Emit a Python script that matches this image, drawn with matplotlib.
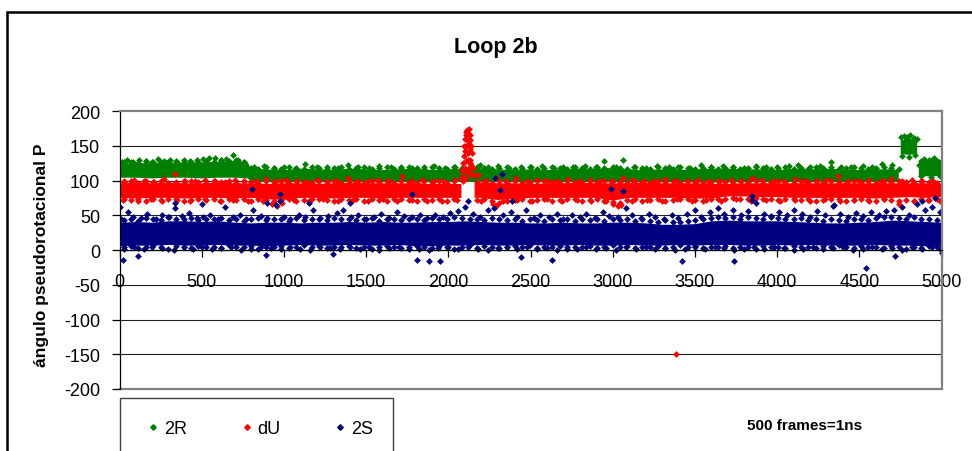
import numpy as np
import matplotlib
matplotlib.use("Agg")
import matplotlib.pyplot as plt
from matplotlib.patches import Rectangle
from matplotlib.lines import Line2D

plt.rcParams['font.family'] = ['Liberation Sans', 'DejaVu Sans']
plt.rcParams['axes.unicode_minus'] = False

# ---------------- data (frame, angle P) ----------------
names = ['2R', 'dU', '2S']
colors = ['#008000', '#FF0000', '#000080']

# dense core of each cloud (lower / upper edge), NaN = break in the cloud
r2_x = [0, 100, 200, 300, 400, 500, 600, 700, 780,
        800, 900, 1000, 1100, 1200, 1300, 1400, 1500, 1600, 1700, 1800, 1900, 2000,
        2100, 2200, 2300, 2400, 2500, 2600, 2700, 2800, 2900, 3000, 3100, 3200, 3300,
        3400, 3500, 3600, 3700, 3800, 3900, 4000, 4100, 4200, 4300, 4400, 4500, 4600,
        4700, 4740, 4746, 4752, 4800, 4852, 4857, 4862, 4900, 4950, 5000]
r2_hi = [124, 125, 125, 126, 125, 126, 127, 128, 126,
         117, 116, 115, 117, 116, 115, 117, 116, 115, 116, 117, 115, 116,
         117, 117, 116, 115, 116, 115, 116, 117, 117, 118, 116, 115, 116,
         115, 116, 117, 117, 116, 116, 115, 117, 116, 117, 116, 115, 116,
         116, 115, np.nan, 158, 160, 158, np.nan, 120, 127, 126, 126]
r2_lo = [104, 104, 103, 104, 104, 103, 104, 104, 103,
         98, 98, 98, 98, 98, 98, 98, 98, 98, 98, 98, 98, 98,
         98, 98, 98, 98, 98, 98, 98, 98, 98, 98, 98, 98, 98,
         98, 98, 98, 98, 98, 98, 98, 98, 98, 98, 98, 98, 98,
         98, 98, np.nan, 138, 137, 138, np.nan, 106, 106, 106, 107]

du_x = [0, 100, 200, 300, 400, 500, 600, 700, 800, 900, 1000, 1100, 1200, 1300,
        1400, 1500, 1600, 1700, 1800, 1900, 2000, 2080, 2120, 2160,
        2200, 2300, 2400, 2500, 2600, 2700, 2800, 2900, 3000, 3100, 3200, 3300,
        3400, 3500, 3600, 3700, 3800, 3900, 4000, 4100, 4200, 4300, 4400, 4500,
        4600, 4700, 4800, 4900, 5000]
du_hi = [96, 97, 96, 97, 96, 96, 97, 96, 96, 95, 96, 96, 95, 96,
         97, 96, 96, 96, 96, 95, 95, 95, np.nan, 96,
         97, 96, 96, 95, 96, 96, 97, 96, 96, 96, 97, 96,
         96, 96, 95, 95, 96, 96, 96, 96, 96, 96, 96, 96,
         96, 96, 96, 96, 95]
du_lo = [75, 74, 75, 75, 74, 75, 75, 74, 75, 73, 72, 75, 75, 74,
         75, 75, 74, 75, 75, 75, 75, 75, np.nan, 75,
         75, 72, 73, 75, 75, 75, 75, 75, 71, 75, 75, 75,
         75, 74, 74, 77, 77, 76, 76, 75, 75, 75, 75, 75,
         74, 75, 76, 75, 76]

s2_x = np.arange(0, 5001, 100)
s2_hi = [40, 41, 40, 42, 42, 41, 42, 40, 39, 40, 40, 39, 40, 40, 41, 40, 41,
         40, 40, 41, 41, 42, 41, 40, 40, 39, 39, 40, 39, 39, 40, 40, 39, 37,
         37, 38, 42, 43, 42, 42, 42, 41, 40, 39, 39, 40, 41, 43, 42, 41, 40]
s2_lo = [6, 7, 7, 8, 7, 7, 8, 7, 7, 6, 7, 8, 7, 7, 8, 7, 7,
         8, 6, 6, 7, 7, 8, 7, 7, 8, 7, 7, 8, 7, 7, 8, 7, 7,
         8, 7, 8, 8, 7, 7, 8, 7, 8, 7, 7, 7, 8, 7, 7, 6, 6]

# points hugging the edges of the cores
edge_x = [25, 70, 115, 160, 205, 250, 295, 345, 390, 435,
          480, 525, 575, 620, 665, 710, 755, 800, 845, 890,
          940, 985, 1030, 1075, 1120, 1170, 1215, 1260, 1305, 1350,
          1395, 1440, 1490, 1535, 1580, 1625, 1670, 1715, 1760, 1810,
          1855, 1900, 1945, 1990, 2035, 2085, 2130, 2175, 2220, 2265,
          2310, 2355, 2405, 2450, 2495, 2540, 2585, 2630, 2680, 2725,
          2770, 2815, 2860, 2905, 2950, 3000, 3045, 3090, 3135, 3180,
          3225, 3275, 3320, 3365, 3410, 3455, 3500, 3550, 3595, 3640,
          3685, 3730, 3775, 3825, 3870, 3915, 3960, 4005, 4050, 4100,
          4145, 4190, 4235, 4280, 4325, 4375, 4420, 4465, 4510, 4555,
          4600, 4650, 4695, 4740, 4785, 4830, 4875, 4925, 4970]
r2_edge_top = [126, 127, 125, 128, 126, 127, 126, 128, 127, 126,
               127, 128, 126, 129, 128, 130, 127, 118, 117, 119,
               118, 117, 119, 118, 117, 119, 118, 117, 118, 119,
               117, 118, 119, 117, 118, 119, 117, 118, 119, 118,
               117, 119, 118, 117, 119, 118, 117, 119, 118, 117,
               118, 119, 117, 118, 119, 117, 118, 119, 118, 117,
               119, 118, 117, 119, 118, 120, 118, 117, 119, 118,
               117, 119, 118, 117, 119, 118, 117, 118, 119, 117,
               118, 119, 117, 118, 119, 118, 117, 118, 119, 117,
               118, 117, 119, 118, 120, 117, 118, 119, 118, 117,
               118, 119, 118, 117, 161, 160, 128, 129, 127]
du_edge_top = [98, 99, 97, 100, 98, 99, 97, 98, 100, 99,
               98, 97, 99, 98, 100, 97, 99, 98, 97, 99,
               98, 100, 97, 99, 98, 97, 99, 98, 100, 97,
               99, 98, 97, 99, 98, 100, 97, 99, 98, 97,
               99, 98, 100, 97, 99, 115, 150, 98, 99, 97,
               100, 98, 99, 97, 98, 99, 100, 98, 97, 99,
               98, 97, 99, 98, 100, 99, 98, 97, 99, 98,
               97, 99, 98, 100, 97, 99, 98, 97, 98, 99,
               98, 97, 99, 98, 100, 97, 98, 99, 98, 97,
               99, 98, 100, 97, 99, 98, 97, 99, 98, 100,
               97, 99, 98, 99, 98, 97, 99, 98, 97]
du_edge_bot = [73, 72, 74, 71, 73, 72, 74, 73, 71, 72,
               74, 72, 73, 71, 73, 72, 74, 71, 73, 72,
               70, 72, 73, 71, 72, 74, 73, 72, 71, 73,
               72, 74, 71, 73, 72, 71, 73, 74, 72, 71,
               73, 72, 74, 71, 73, 102, 125, 72, 73, 71,
               68, 70, 72, 73, 71, 72, 73, 71, 72, 74,
               73, 71, 72, 73, 70, 69, 68, 72, 73, 71,
               72, 73, 71, 72, 74, 73, 72, 71, 73, 74,
               74, 75, 73, 74, 75, 73, 74, 72, 73, 74,
               72, 73, 71, 72, 74, 73, 71, 72, 73, 72,
               71, 73, 72, 70, 72, 71, 73, 72, 74]
s2_edge_top = [43, 45, 42, 46, 44, 43, 47, 45, 44, 46,
               43, 45, 44, 46, 43, 45, 42, 44, 46, 43,
               45, 44, 42, 46, 43, 45, 44, 43, 46, 44,
               45, 43, 44, 46, 42, 45, 44, 43, 45, 44,
               43, 46, 44, 45, 47, 46, 44, 45, 43, 46,
               44, 43, 45, 42, 44, 43, 42, 44, 43, 45,
               42, 44, 43, 45, 42, 44, 43, 45, 42, 44,
               42, 41, 43, 40, 41, 42, 43, 45, 46, 47,
               46, 48, 45, 47, 46, 45, 47, 46, 45, 44,
               46, 43, 44, 42, 45, 43, 42, 44, 45, 43,
               46, 47, 48, 46, 45, 47, 45, 44, 43]
s2_edge_bot = [4, 6, 3, 5, 7, 4, 2, 6, 5, 3,
               6, 4, 5, 3, 7, 5, 4, 6, 2, 5,
               4, 6, 3, 5, 7, 4, 6, 3, 5, 4,
               6, 3, 5, 2, 4, 6, 5, 3, 4, 6,
               5, 3, 6, 4, 2, 5, 7, 3, 6, 4,
               3, 5, 6, 4, 7, 3, 5, 4, 6, 2,
               5, 4, 6, 3, 5, 7, 4, 6, 3, 5,
               4, 6, 3, 5, 7, 4, 6, 3, 5, 4,
               6, 3, 5, 4, 2, 6, 4, 5, 3, 6,
               4, 5, 3, 6, 4, 7, 5, 3, 6, 4,
               5, 3, 6, 4, 2, 5, 3, 6, 4]

# looser points around the cores
r2_pts_x = [15, 45, 80, 120, 160, 200, 235, 270, 310, 350, 390, 430, 470, 505,
            545, 580, 615, 650, 690, 720, 755,
            820, 880, 940, 1000, 1070, 1130, 1200, 1260, 1330, 1390, 1450, 1520,
            1580, 1650, 1710, 1780, 1850, 1910, 1980, 2040, 2190, 2240, 2300, 2370,
            2440, 2500, 2570, 2640, 2700, 2760, 2830, 2900, 2950, 3020, 3060, 3130,
            3200, 3270, 3340, 3400, 3470, 3540, 3600, 3670, 3730, 3800, 3870, 3930,
            4000, 4070, 4130, 4200, 4260, 4330, 4390, 4450, 4520, 4580, 4640, 4700,
            4755, 4770, 4790, 4810, 4830, 4848, 4762, 4800, 4840,
            4865, 4880, 4895, 4910, 4925, 4940, 4955, 4970, 4985, 4998, 4875, 4935, 4990]
r2_pts_y = [127, 129, 126, 130, 128, 127, 131, 128, 129, 127, 130, 128, 129, 131,
            132, 133, 130, 131, 136, 129, 127,
            119, 121, 118, 120, 117, 124, 119, 120, 118, 122, 119, 118,
            121, 119, 120, 118, 119, 121, 118, 120, 122, 119, 121, 118,
            120, 119, 121, 118, 120, 119, 121, 120, 128, 119, 130, 120,
            118, 121, 119, 120, 118, 122, 119, 121, 120, 118, 121, 119,
            120, 121, 122, 119, 121, 126, 120, 119, 121, 120, 124, 122,
            162, 164, 163, 165, 161, 160, 135, 134, 136,
            122, 128, 131, 127, 124, 130, 132, 128, 126, 124, 106, 105, 107]

du_pts_x = [30, 90, 150, 210, 270, 340, 400, 460, 520, 580, 640, 700, 760, 830, 890,
            950, 1010, 1080, 1140, 1200, 1260, 1320, 1390, 1450, 1510, 1570, 1640,
            1720, 1780, 1840, 1910, 1970, 2040, 2180, 2230, 2290, 2350, 2410, 2480,
            2540, 2600, 2660, 2730, 2800, 2860, 2920, 2990, 3060, 3120, 3190, 3250,
            3320, 3390, 3450, 3520, 3580, 3650, 3720, 3780, 3850, 3910, 3980, 4040,
            4110, 4170, 4240, 4300, 4370, 4430, 4500, 4560, 4630, 4690, 4760, 4820,
            4880, 4950,
            20, 110, 190, 260, 350, 430, 520, 610, 690, 780, 870, 930, 960, 990, 1060,
            1150, 1240, 1330, 1420, 1510, 1600, 1690, 1780, 1870, 1960, 2050, 2200,
            2270, 2290, 2330, 2420, 2510, 2600, 2690, 2780, 2870, 2960, 3000, 3030,
            3050, 3120, 3210, 3300, 3390, 3480, 3570, 3660, 3750, 3840, 3930, 4020,
            4110, 4200, 4290, 4380, 4470, 4560, 4650, 4740, 4830, 4920, 4990,
            2085, 2090, 2090, 2095, 2095, 2100, 2100, 2105, 2105, 2110, 2110, 2115,
            2115, 2120, 2120, 2125, 2125, 2130, 2130, 2135, 2135, 2140, 2140, 2145,
            2150, 2155, 2100, 2110, 2120, 2130, 2092, 2118, 2128, 2138,
            3385]
du_pts_y = [99, 101, 100, 98, 102, 109, 100, 99, 101, 100, 98, 101, 99, 100, 102,
            99, 101, 100, 98, 101, 100, 99, 103, 100, 99, 101, 100,
            107, 99, 101, 100, 99, 101, 108, 100, 103, 99, 104, 100,
            101, 99, 100, 102, 99, 101, 100, 99, 104, 101, 100, 99,
            102, 100, 99, 101, 100, 99, 101, 100, 103, 101, 100, 99,
            102, 100, 99, 101, 107, 100, 99, 101, 100, 102, 99, 101,
            100, 99,
            72, 71, 73, 70, 72, 71, 73, 70, 72, 71, 70, 66, 64, 68, 72,
            71, 73, 70, 72, 71, 73, 70, 72, 71, 70, 72, 71,
            66, 64, 70, 72, 71, 73, 70, 72, 71, 70, 66, 63,
            65, 71, 72, 70, 73, 71, 72, 70, 73, 71, 72, 70,
            72, 71, 73, 70, 72, 71, 73, 66, 70, 72, 71,
            105, 112, 125, 135, 150, 160, 142, 166, 128, 170, 150, 172,
            158, 168, 140, 174, 160, 165, 145, 158, 130, 150, 122, 140,
            118, 108, 118, 104, 112, 120, 100, 130, 152, 110,
            -150]

s2_pts_x = [10, 50, 80, 130, 170, 220, 260, 300, 340, 380, 420, 470, 510, 550, 600,
            640, 690, 730, 770, 810, 860, 900, 950, 1000, 1040, 1090, 1130, 1180,
            1220, 1270, 1320, 1360, 1410, 1450, 1500, 1550, 1590, 1640, 1690, 1730,
            1780, 1830, 1870, 1920, 1970, 2010, 2060, 2100, 2150, 2190, 2240, 2280,
            2330, 2380, 2420, 2470, 2520, 2560, 2610, 2660, 2700, 2750, 2800, 2840,
            2890, 2940, 2980, 3030, 3080, 3120, 3170, 3220, 3260, 3310, 3360, 3400,
            3450, 3500, 3540, 3590, 3640, 3680, 3730, 3780, 3820, 3870, 3920, 3960,
            4010, 4060, 4100, 4150, 4200, 4240, 4290, 4340, 4380, 4430, 4480, 4520,
            4570, 4620, 4660, 4710, 4760, 4800, 4850, 4900, 4940, 4990,
            806, 975, 975, 1780, 2285, 2325, 2315, 2390, 335, 5, 900, 2990, 3065,
            3845, 3850, 4345, 4960, 4880, 2120, 1400, 1150, 500,
            30, 90, 150, 200, 260, 330, 390, 450, 500, 560, 620, 680, 740, 800, 860,
            920, 980, 1040, 1100, 1160, 1220, 1280, 1340, 1400, 1460, 1520, 1580,
            1640, 1700, 1760, 1820, 1880, 1940, 2000, 2060, 2120, 2180, 2240, 2300,
            2360, 2420, 2480, 2540, 2600, 2660, 2720, 2780, 2840, 2900, 2960, 3020,
            3080, 3140, 3200, 3260, 3320, 3380, 3440, 3500, 3560, 3620, 3680, 3740,
            3800, 3860, 3920, 3980, 4040, 4100, 4160, 4220, 4280, 4340, 4400, 4460,
            4520, 4580, 4640, 4700, 4760, 4820, 4880, 4940, 4990,
            20, 110, 1810, 1880, 1950, 2440, 2630, 3420, 3735, 4540, 4720, 5000, 890, 1300]
s2_pts_y = [45, 55, 48, 46, 52, 44, 50, 47, 60, 49, 53, 46, 48, 51, 45,
            62, 47, 50, 44, 57, 49, 46, 65, 48, 45, 50, 47, 57,
            46, 49, 53, 58, 47, 50, 45, 48, 52, 46, 55, 49,
            47, 51, 46, 50, 48, 53, 56, 62, 52, 47, 58, 60,
            50, 54, 48, 57, 46, 50, 47, 52, 45, 50, 47, 52,
            46, 54, 49, 47, 60, 50, 46, 52, 47, 44, 50, 46,
            52, 58, 48, 55, 60, 52, 58, 50, 56, 68, 52, 49,
            55, 50, 58, 52, 48, 56, 50, 64, 52, 48, 53, 49,
            55, 50, 56, 58, 62, 50, 66, 58, 62, 54,
            88, 80, 70, 80, 104, 109, 87, 70, 67, 62, 67, 88, 85,
            78, 72, 65, 75, 70, 70, 68, 68, 66,
            2, 4, 1, 5, 3, 0, 4, 2, 5, 1, 3, 4, 0, 2, 5,
            3, 1, 4, 2, 0, 5, 3, 1, 4, 2, 5, 0,
            3, 4, 1, 2, 0, 3, 5, 1, 4, 2, 0, 3,
            5, 1, 4, 2, 3, 0, 5, 2, 4, 1, 3, 0,
            4, 2, 5, 1, 3, 0, 2, 4, 1, 5, 3, 0,
            2, 4, 1, 5, 3, 0, 2, 4, 1, 3, 5, 0,
            2, 4, 1, 3, 0, 5, 2, 4, 1,
            -14, -9, -14, -16, -16, -10, -14, -16, -16, -26, -8, -4, -7, -6]

cores = [(r2_x, r2_lo, r2_hi), (du_x, du_lo, du_hi), (s2_x, s2_lo, s2_hi)]
points = [(r2_pts_x, r2_pts_y), (du_pts_x, du_pts_y), (s2_pts_x, s2_pts_y)]
edges = [[r2_edge_top], [du_edge_top, du_edge_bot], [s2_edge_top, s2_edge_bot]]

x_ticks = np.arange(0, 5001, 500)
y_ticks = np.arange(-200, 201, 50)

# ---------------- figure ----------------
W, H = 972, 452
fig = plt.figure(figsize=(W / 100, H / 100), dpi=100)
ax = fig.add_axes([119.5 / W, 1 - 390 / H, 822 / W, 278 / H])

for (cx, lo, hi), (px, py), eds, c in zip(cores, points, edges, colors):
    ax.fill_between(cx, lo, hi, color=c, linewidth=0, zorder=2)
    for ey in eds:
        ax.scatter(edge_x, ey, s=12, marker='D', color=c, linewidths=0, zorder=2)
    ax.scatter(px, py, s=12, marker='D', color=c, linewidths=0, zorder=2)

ax.set_xlim(0, 5000)
ax.set_ylim(-200, 200)
ax.set_xticks(x_ticks)
ax.set_yticks(y_ticks)
ax.set_yticklabels([str(v) for v in y_ticks])
ax.tick_params(axis='both', labelsize=13, direction='out', color='black', width=0.9)
ax.tick_params(axis='y', length=6, pad=8)
ax.tick_params(axis='x', length=5, pad=11.5)

for v in y_ticks[1:-1]:
    ax.axhline(v, color='#222222', lw=0.8, zorder=1)
ax.axhline(-200, color='#808080', lw=1.6, zorder=1, clip_on=False)

ax.spines['bottom'].set_position(('data', 0))
ax.spines['bottom'].set_color('black')
ax.spines['bottom'].set_linewidth(0.9)
ax.spines['left'].set_color('black')
ax.spines['left'].set_linewidth(0.9)
for s in ('top', 'right'):
    ax.spines[s].set_color('#808080')
    ax.spines[s].set_linewidth(1.6)

# texts
fig.text(496 / W, 1 - 53.3 / H, 'Loop 2b', fontsize=15.5, fontweight='bold',
         ha='center', va='baseline')
fig.text(42 / W, 1 - 255 / H, 'ángulo pseudorotacional P', fontsize=12.5,
         fontweight='bold', rotation=90, ha='center', va='center')
fig.text(747 / W, 1 - 430 / H, '500 frames=1ns', fontsize=11, fontweight='bold',
         ha='left', va='baseline')

# outer chart border
fig.add_artist(Rectangle((6.5 / W, -0.1), 1.2, 1.1 - 13.5 / H, transform=fig.transFigure,
                         fill=False, ec='black', lw=1.8, clip_on=False))

# legend box
fig.add_artist(Rectangle((120 / W, -0.1), 273 / W, 0.1 + 1 - 399 / H,
                         transform=fig.transFigure, fill=False, ec='#404040',
                         lw=1.0, clip_on=False))
for mx, name, c in zip([153, 246.5, 340], names, colors):
    fig.add_artist(Line2D([mx / W], [1 - 428 / H], marker='D', ms=2.8, color=c,
                          mec=c, transform=fig.transFigure))
    fig.text((mx + 11) / W, 1 - 434.3 / H, name, fontsize=13, ha='left',
             va='baseline')

fig.savefig('out.png', dpi=100)
